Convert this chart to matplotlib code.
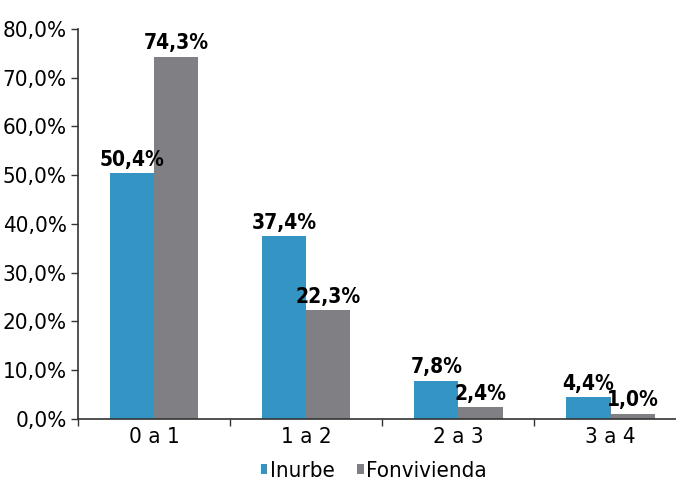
import matplotlib.pyplot as plt
import numpy as np
from matplotlib.ticker import FixedLocator, FuncFormatter

plt.rcParams['font.family'] = ['DejaVu Sans']
plt.rcParams['font.stretch'] = 'condensed'

categories = ['0 a 1', '1 a 2', '2 a 3', '3 a 4']
inurbe = [50.4, 37.4, 7.8, 4.4]
fonvivienda = [74.3, 22.3, 2.4, 1.0]

blue = '#3494c3'
gray = '#808084'
bar_width = 0.29

fig = plt.figure(figsize=(6.76, 4.82), dpi=100)
ax = fig.add_axes([0.1154, 0.1315, 0.8846, 0.8083])

x = np.arange(len(categories))
b1 = ax.bar(x - bar_width / 2, inurbe, bar_width, color=blue, label='Inurbe')
b2 = ax.bar(x + bar_width / 2, fonvivienda, bar_width, color=gray, label='Fonvivienda')

for bars in (b1, b2):
    for rect in bars:
        h = rect.get_height()
        ax.text(rect.get_x() + rect.get_width() / 2, h + 0.7,
                ('%.1f%%' % h).replace('.', ','),
                ha='center', va='bottom', fontsize=15, fontweight='bold')

ax.set_xlim(-0.5, 3.43)
ax.set_ylim(0, 80)
ax.set_yticks(np.arange(0, 81, 10))
ax.yaxis.set_major_formatter(FuncFormatter(lambda v, p: ('%.1f%%' % v).replace('.', ',')))

ax.set_xticks(x)
ax.set_xticklabels(categories)
ax.xaxis.set_minor_locator(FixedLocator(np.arange(-0.5, 4, 1)))
ax.tick_params(axis='x', which='major', length=0, labelsize=16, pad=6)
ax.tick_params(axis='x', which='minor', length=5, width=1, color='#333333')
ax.tick_params(axis='y', length=5, width=1, labelsize=16, color='#333333', pad=3)

for s in ['top', 'right']:
    ax.spines[s].set_visible(False)
for s in ['left', 'bottom']:
    ax.spines[s].set_color('#333333')
    ax.spines[s].set_linewidth(1.2)

ax.legend(loc='lower center', bbox_to_anchor=(0.553, 0.0), bbox_transform=fig.transFigure,
          ncol=2, frameon=False, borderpad=0.05, borderaxespad=0,
          fontsize=16, handlelength=0.3, handleheight=0.3, handletextpad=0.12,
          columnspacing=1.0)

plt.savefig('out.png', dpi=100)
plt.close('all')
